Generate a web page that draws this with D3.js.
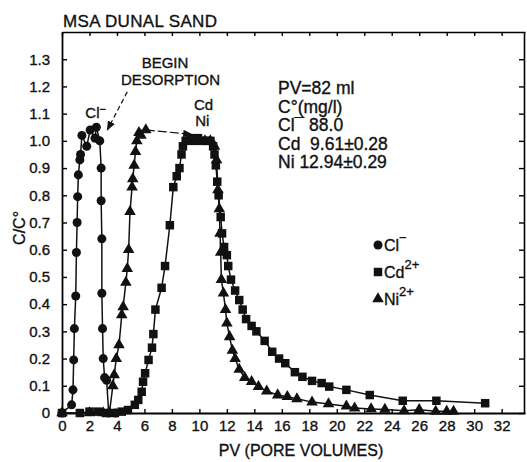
<!DOCTYPE html>
<html>
<head>
<meta charset="utf-8">
<script src="https://cdn.jsdelivr.net/npm/d3@7"></script>
<style>
body { margin: 0; background: #fff; }
text { font-family: "Liberation Sans", Arial, sans-serif; fill: #111; stroke: #111; stroke-width: 0.35; }
</style>
</head>
<body>
<div id="chart"></div>
<script>
// Cl- breakthrough + desorption
const clPV = [0, 0.7, 0.8, 0.85, 0.9, 1.0, 1.05, 1.1, 1.14, 1.19, 1.3, 1.35, 1.45, 1.8, 2.05, 2.4, 2.5, 2.75, 2.85, 2.85, 2.9, 2.9, 2.95, 3.0, 3.1, 3.25, 3.4, 3.9];
const clC  = [0, 0.03, 0.085, 0.195, 0.31, 0.43, 0.59, 0.70, 0.795, 0.875, 0.93, 0.95, 1.02, 0.98, 1.04, 1.01, 1.05, 1.0, 0.9, 0.78, 0.64, 0.44, 0.31, 0.2, 0.13, 0.12, 0.0, 0.0];

// Cd2+
const cdPV = [0, 1.3, 2.0, 2.6, 3.2, 3.85, 4.35, 4.8, 5.3, 5.55, 5.8, 5.9, 6.05, 6.3, 6.55, 6.65, 6.8, 7.25, 7.5, 7.85, 8.1, 8.35, 8.55, 8.7, 8.8, 9.0, 9.3, 9.6, 9.9, 10.2, 10.5, 10.8, 11.0, 11.1, 11.2, 11.3, 11.4, 11.55, 11.65, 11.8, 12.0, 12.1, 12.3, 12.6, 12.9, 13.15, 13.4, 13.8, 14.15, 14.75, 15.3, 15.8, 16.25, 16.95, 17.5, 18.2, 18.9, 19.45, 20.7, 22.4, 24.8, 27.25, 30.8];
const cdC  = [0, 0, 0.005, 0.005, 0, 0, 0.005, 0.011, 0.03, 0.048, 0.078, 0.115, 0.146, 0.195, 0.24, 0.29, 0.38, 0.46, 0.54, 0.69, 0.83, 0.87, 0.9, 0.95, 0.98, 1.0, 1.01, 1.0, 1.01, 1.0, 1.0, 1.0, 0.98, 0.95, 0.91, 0.85, 0.8, 0.72, 0.66, 0.61, 0.58, 0.54, 0.49, 0.45, 0.415, 0.38, 0.345, 0.32, 0.3, 0.265, 0.225, 0.2, 0.183, 0.15, 0.133, 0.118, 0.11, 0.097, 0.085, 0.066, 0.045, 0.045, 0.036];

// Ni2+ sorption front, then desorption limb
const niUpPV = [0, 2.0, 3.0, 3.45, 3.7, 3.8, 3.95, 4.15, 4.35, 4.45, 4.65, 4.75, 4.85, 4.95, 5.1, 5.15, 5.25, 5.35, 5.45, 5.6, 5.75, 6.1];
const niUpC  = [0, 0, 0, 0, 0.1, 0.14, 0.2, 0.25, 0.36, 0.39, 0.48, 0.53, 0.6, 0.74, 0.83, 0.86, 0.91, 0.96, 1.0, 1.03, 1.02, 1.04];
const niDownPV = [9.6, 10.0, 10.4, 10.8, 11.1, 11.25, 11.35, 11.45, 11.5, 11.55, 11.6, 11.75, 11.9, 12.0, 12.2, 12.4, 12.6, 12.9, 13.3, 13.8, 14.3, 14.9, 15.7, 16.4, 17.1, 18.2, 19.4, 20.7, 21.3, 22.5, 23.5, 24.9, 26.0, 27.2, 28.0, 28.5];
const niDownC  = [1.0, 1.0, 1.0, 1.0, 0.98, 0.93, 0.82, 0.75, 0.66, 0.59, 0.49, 0.44, 0.38, 0.33, 0.28, 0.23, 0.2, 0.16, 0.13, 0.115, 0.097, 0.08, 0.066, 0.06, 0.052, 0.04, 0.033, 0.025, 0.018, 0.015, 0.013, 0.008, 0.012, 0.006, 0.006, 0.006];

const xTicks = [0, 2, 4, 6, 8, 10, 12, 14, 16, 18, 20, 22, 24, 26, 28, 30, 32];
const yTicks = [0, 0.1, 0.2, 0.3, 0.4, 0.5, 0.6, 0.7, 0.8, 0.9, 1.0, 1.1, 1.2, 1.3];
const yTickLabels = ["0", "0.1", "0.2", "0.3", "0.4", "0.5", "0.6", "0.7", "0.8", "0.9", "1.0", "1.1", "1.2", "1.3"];
const infoLines = ["PV=82 ml", "C°(mg/l)", "Cl¯ 88.0", "Cd  9.61±0.28", "Ni 12.94±0.29"];

const width = 527, height = 462;
const margin = {left: 62, right: 2, top: 32, bottom: 49};

const svg = d3.select("#chart")
    .append("svg")
    .attr("width", width)
    .attr("height", height);

const x = d3.scaleLinear().domain([0, 33.7]).range([margin.left, width - margin.right]);
const y = d3.scaleLinear().domain([0, 1.4]).range([height - margin.bottom, margin.top]);

// frame + inward ticks
svg.append("g")
    .attr("transform", `translate(0,${y(0)})`)
    .call(d3.axisBottom(x).tickValues(xTicks).tickSizeInner(-4).tickSizeOuter(0).tickPadding(7).tickFormat(d3.format("d")))
    .call(g => g.select(".domain").attr("stroke-width", 1.8))
    .call(g => g.selectAll("line").attr("stroke-width", 1.4))
    .call(g => g.selectAll("text").attr("font-size", 15));

svg.append("g")
    .attr("transform", `translate(0,${y(1.4)})`)
    .call(d3.axisTop(x).tickValues(xTicks).tickSizeInner(-4).tickSizeOuter(0).tickFormat(""))
    .call(g => g.selectAll("line").attr("stroke-width", 1.4))
    .call(g => g.select(".domain").attr("stroke-width", 1.6));

svg.append("g")
    .attr("transform", `translate(${x(0)},0)`)
    .call(d3.axisLeft(y).tickValues(yTicks).tickSizeInner(-5).tickSizeOuter(0).tickPadding(12).tickFormat((d, i) => yTickLabels[i]))
    .call(g => g.select(".domain").attr("stroke-width", 1.8))
    .call(g => g.selectAll("line").attr("stroke-width", 1.4))
    .call(g => g.selectAll("text").attr("font-size", 15));

svg.append("g")
    .attr("transform", `translate(${x(33.7) - 1},0)`)
    .call(d3.axisRight(y).tickValues(yTicks).tickSizeInner(-5).tickSizeOuter(0).tickFormat(""))
    .call(g => g.selectAll("line").attr("stroke-width", 1.4))
    .call(g => g.select(".domain").attr("stroke-width", 1.6));

// series
function series(pv, c) { return pv.map((d, i) => [d, c[i]]); }
const cl = series(clPV, clC);
const cd = series(cdPV, cdC);
const niUp = series(niUpPV, niUpC);
const niDown = series(niDownPV, niDownC);

const line = d3.line().x(d => x(d[0])).y(d => y(d[1]));

[cd, niUp, niDown, cl].forEach(s => {
    svg.append("path")
        .datum(s)
        .attr("d", line)
        .attr("fill", "none")
        .attr("stroke", "#111")
        .attr("stroke-width", 1.5);
});

const circle = d3.symbol().type(d3.symbolCircle).size(64);
const square = d3.symbol().type(d3.symbolSquare).size(72);
const triangle = d3.symbol().type(d3.symbolTriangle).size(58);

function marks(s, sym) {
    svg.append("g")
        .selectAll("path")
        .data(s)
        .enter()
        .append("path")
        .attr("d", sym)
        .attr("transform", d => `translate(${x(d[0])},${y(d[1])})`)
        .attr("fill", "#111");
}
marks(cd, square);
marks(niUp, triangle);
marks(niDown, triangle);
marks(cl, circle);

// arrowheads
svg.append("defs").append("marker")
    .attr("id", "arr")
    .attr("viewBox", "0 0 10 10")
    .attr("refX", 9).attr("refY", 5)
    .attr("markerWidth", 8).attr("markerHeight", 8)
    .attr("orient", "auto")
    .append("path")
    .attr("d", "M0,1L10,5L0,9Z")
    .attr("fill", "#111");

// begin desorption: Cl-
svg.append("line")
    .attr("x1", x(4.75)).attr("y1", y(1.18))
    .attr("x2", x(3.3)).attr("y2", y(1.04))
    .attr("stroke", "#111").attr("stroke-width", 1.2)
    .attr("stroke-dasharray", "5,3")
    .attr("marker-end", "url(#arr)");

// begin desorption: Cd, Ni
svg.append("line")
    .attr("x1", x(6.1)).attr("y1", y(1.04))
    .attr("x2", x(9.45)).attr("y2", y(1.024))
    .attr("stroke", "#111").attr("stroke-width", 1.2)
    .attr("stroke-dasharray", "9,3")
    .attr("marker-end", "url(#arr)");

// labels
svg.append("text")
    .attr("x", 63).attr("y", 27)
    .attr("font-size", 17)
    .attr("textLength", 154)
    .text("MSA DUNAL SAND");

svg.append("text")
    .attr("x", x(17.4)).attr("y", 456)
    .attr("text-anchor", "middle")
    .attr("font-size", 16)
    .text("PV (PORE VOLUMES)");

svg.append("text")
    .attr("transform", `translate(25,${y(0.68)}) rotate(-90)`)
    .attr("text-anchor", "middle")
    .attr("font-size", 16)
    .text("C/C°");

svg.append("text")
    .attr("x", x(7.5)).attr("y", 68)
    .attr("text-anchor", "middle")
    .attr("font-size", 15)
    .text("BEGIN");
svg.append("text")
    .attr("x", x(7.9)).attr("y", 85)
    .attr("text-anchor", "middle")
    .attr("font-size", 15)
    .text("DESORPTION");

const clLab = svg.append("text")
    .attr("x", x(1.7)).attr("y", 118)
    .attr("font-size", 15);
clLab.append("tspan").text("Cl");
clLab.append("tspan").attr("dy", -5).attr("font-size", 11).text("−");

svg.append("text").attr("x", x(9.6)).attr("y", 110).attr("font-size", 15).text("Cd");
svg.append("text").attr("x", x(9.7)).attr("y", 126).attr("font-size", 15).text("Ni");

svg.append("g")
    .selectAll("text")
    .data(infoLines)
    .enter()
    .append("text")
    .attr("x", 278)
    .attr("y", (d, i) => 94 + i * 18.5)
    .attr("font-size", 17.5)
    .attr("xml:space", "preserve")
    .text(d => d);

// legend
const legend = [
    {sym: circle, name: "Cl", sup: "−"},
    {sym: square, name: "Cd", sup: "2+"},
    {sym: triangle, name: "Ni", sup: "2+"}
];
legend.forEach((d, i) => {
    const ly = 245 + i * 27;
    svg.append("path")
        .attr("d", d.sym)
        .attr("transform", `translate(378,${ly})`)
        .attr("fill", "#111");
    const t = svg.append("text")
        .attr("x", 384).attr("y", ly + 6)
        .attr("font-size", 16);
    t.append("tspan").text(d.name);
    t.append("tspan").attr("dy", -9).attr("font-size", 13).text(d.sup);
});
</script>
</body>
</html>
